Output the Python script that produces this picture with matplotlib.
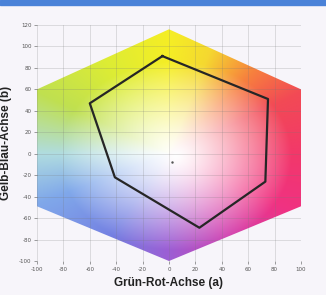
import numpy as np
import matplotlib
matplotlib.use("Agg")
import matplotlib.pyplot as plt
from matplotlib.patches import Polygon, Rectangle
from matplotlib.colors import to_rgb

plt.rcParams['axes.unicode_minus'] = False

# colour gamut outline (a, b)
gamut_a = [0, 100, 100, 0, -100, -100]
gamut_b = [116, 60, -49, -100, -49, 60]

# black polygon (a, b)
poly_a = [-5, 75, 73, 23, -41, -60]
poly_b = [91, 51, -26, -69, -22, 47]

x_ticks = [-100, -80, -60, -40, -20, 0, 20, 40, 60, 80, 100]
y_ticks = [-100, -80, -60, -40, -20, 0, 20, 40, 60, 80, 100, 120]

# hue anchors around the a/b plane (angle in degrees -> colour)
hue_angles = [0, 30, 50, 72, 90, 120, 150, 180, 205, 240, 270, 300, 330, 360]
hue_colors = ['#f2386a', '#f24a55', '#f7803e', '#f5d830', '#f5ee25', '#dcec35',
              '#c0e050', '#b0dce0', '#80a8ea', '#7480e2', '#9c5ed4', '#d040b0',
              '#f03282', '#f2386a']

fig = plt.figure(figsize=(3.26, 2.95), dpi=100)
fig.patch.set_facecolor('#f7f5fa')
fig.patches.append(Rectangle((0, 0.982), 1, 0.018, transform=fig.transFigure,
                             color='#4a82d8', zorder=0))

ax = fig.add_axes([37 / 326, 1 - 261 / 295, 264 / 326, 236 / 295])
ax.set_facecolor('#f7f5fa')

# colour field
A, B = np.meshgrid(np.linspace(-100, 100, 300), np.linspace(-100, 120, 330))
ang = np.degrees(np.arctan2(B, A)) % 360
rgb = np.array([to_rgb(c) for c in hue_colors])
col = np.stack([np.interp(ang, hue_angles, rgb[:, k]) for k in range(3)], axis=-1)
r = np.hypot(A - 5, B + 2)
t = np.clip(r / 88, 0, 1)[..., None] ** 1.3
img = (1 - t) * 1.0 + t * col
im = ax.imshow(img, extent=(-100, 100, -100, 120), origin='lower',
               interpolation='bilinear', zorder=1, aspect='auto')
clip = Polygon(np.column_stack([gamut_a, gamut_b]), closed=True,
               transform=ax.transData, facecolor='none', edgecolor='none')
ax.add_patch(clip)
im.set_clip_path(clip)

ax.plot(poly_a + poly_a[:1], poly_b + poly_b[:1], color='#262626', lw=1.6,
        zorder=3)
ax.plot([2], [-8], marker='.', ms=1.5, color='#555555', zorder=3)

ax.set_xlim(-100, 100)
ax.set_ylim(-100, 120)
ax.set_xticks(x_ticks)
ax.set_yticks(y_ticks)
ax.grid(True, color='#777777', alpha=0.3, lw=0.5)
ax.set_axisbelow(False)
for s in ax.spines.values():
    s.set_visible(False)
ax.tick_params(labelsize=4, colors='#555555', length=2, width=0.4, pad=2)

ax.set_xlabel('Grün-Rot-Achse (a)', fontsize=8.5, fontweight='bold', color='#222222',
              family=['Liberation Sans', 'DejaVu Sans'], labelpad=4)
ax.set_ylabel('Gelb-Blau-Achse (b)', fontsize=8.5, fontweight='bold', color='#222222',
              family=['Liberation Sans', 'DejaVu Sans'])
ax.yaxis.set_label_coords(-0.095, 0.5)

fig.savefig('out.png', dpi=100, facecolor=fig.get_facecolor())
